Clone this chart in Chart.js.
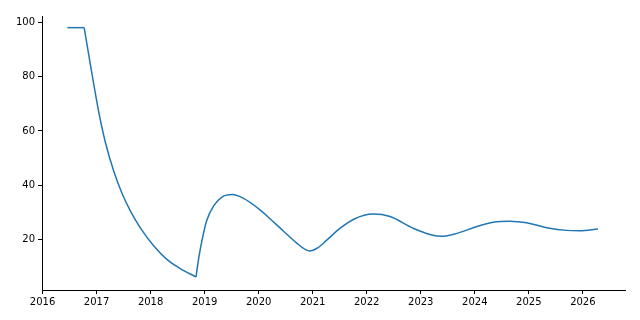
<!DOCTYPE html>
<html lang="en">
  <head>
    <meta charset="UTF-8" />
    <title>Line chart</title>
    <script src="https://cdn.jsdelivr.net/npm/chart.js@4"></script>
    <style>
      body { margin: 0; background: #fff; }
    </style>
  </head>
  <body>
    <canvas id="myChart" width="640" height="320"></canvas>

    <script>
      // values (decimal years)
      const years = [
        2016.46, 2016.77, 2016.86, 2016.95, 2017.04, 2017.16, 2017.32, 2017.47,
        2017.63, 2017.81, 2018.06, 2018.30, 2018.55, 2018.84, 2018.89, 2018.95,
        2019.04, 2019.17, 2019.32, 2019.51, 2019.72, 2020.03, 2020.21, 2020.46,
        2020.71, 2020.86, 2020.95, 2021.08, 2021.26, 2021.51, 2021.76, 2022.12,
        2022.43, 2022.86, 2023.17, 2023.39, 2023.67, 2024.04, 2024.34,
        2024.65, 2024.96, 2025.33, 2025.70, 2025.94, 2026.28
      ];
      const values = [
        98.1, 98.1, 87.5, 77.0, 67.0, 56.0, 45.0, 37.0,
        30.3, 24.2, 17.5, 12.6, 9.2, 6.1, 13.0, 19.5,
        27.0, 32.4, 35.6, 36.5, 35.1, 30.8, 27.6, 23.0,
        18.5, 16.3, 15.7, 16.7, 19.7, 24.1, 27.4, 29.3,
        28.4, 24.1, 21.8, 21.1, 22.2, 24.7, 26.3,
        26.7, 26.1, 24.3, 23.3, 23.2, 23.8
      ];
      // indices where the line has a sharp corner
      const corners = [1, 13];
      const xTicks = [2016, 2017, 2018, 2019, 2020, 2021, 2022, 2023, 2024, 2025, 2026];
      const yTicks = [20, 40, 60, 80, 100];

      const points = years.map((x, i) => ({ x: x, y: values[i] }));
      const cuts = [0].concat(corners, [points.length - 1]);
      const datasets = [];
      for (let i = 0; i < cuts.length - 1; i++) {
        datasets.push({
          data: points.slice(cuts[i], cuts[i + 1] + 1),
          showLine: true,
          borderColor: '#1f77b4',
          borderWidth: 1.5,
          pointRadius: 0,
          cubicInterpolationMode: 'monotone',
          fill: false
        });
      }
      const tickFont = { family: 'DejaVu Sans', size: 10 };

      const ctx = document.getElementById('myChart').getContext('2d');
      const myChart = new Chart(ctx, {
        type: 'scatter',
        data: { datasets: datasets },
        options: {
          responsive: false,
          animation: false,
          layout: { padding: { top: 16, right: 15, left: 0, bottom: 0 } },
          plugins: {
            legend: { display: false },
            tooltip: { enabled: false }
          },
          scales: {
            x: {
              type: 'linear',
              min: 2015.99,
              max: 2026.78,
              afterBuildTicks: scale => { scale.ticks = xTicks.map(v => ({ value: v })); },
              afterFit: scale => { scale.height = 30; },
              border: { display: true, color: '#000', width: 1 },
              grid: { drawOnChartArea: false, drawTicks: true, tickLength: 4, color: '#000' },
              ticks: {
                color: '#000',
                font: tickFont,
                padding: 2,
                maxRotation: 0,
                callback: v => String(v)
              }
            },
            y: {
              min: 1.3,
              max: 102.4,
              afterBuildTicks: scale => { scale.ticks = yTicks.map(v => ({ value: v })); },
              afterFit: scale => { scale.width = 42; },
              border: { display: true, color: '#000', width: 1 },
              grid: { drawOnChartArea: false, drawTicks: true, tickLength: 4, color: '#000' },
              ticks: {
                color: '#000',
                font: tickFont,
                padding: 3,
                callback: v => String(v)
              }
            }
          }
        }
      });
    </script>
  </body>
</html>
